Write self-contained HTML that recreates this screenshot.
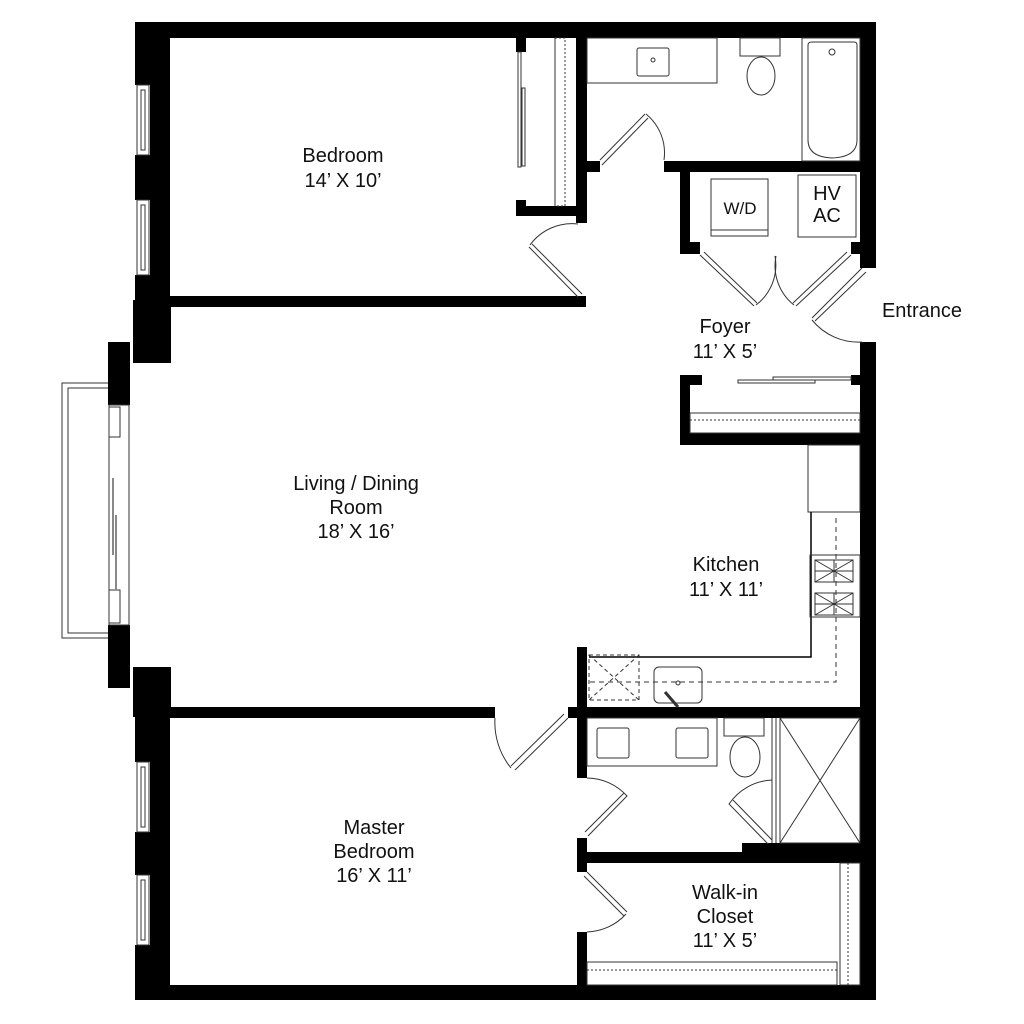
<!DOCTYPE html>
<html><head><style>
html,body{margin:0;padding:0;background:#fff;}
svg{display:block}
text{font-family:"Liberation Sans",Arial,sans-serif;fill:#111;text-anchor:middle}
</style></head><body>
<svg width="1024" height="1024" viewBox="0 0 1024 1024" xmlns="http://www.w3.org/2000/svg">
<g fill="#000">
<rect x="135" y="22" width="741" height="16"/>
<rect x="860" y="22" width="16" height="246"/>
<rect x="860" y="342" width="16" height="658"/>
<rect x="135" y="985" width="741" height="15"/>
<rect x="135" y="22" width="35" height="63"/>
<rect x="135" y="155" width="35" height="45"/>
<rect x="135" y="275" width="35" height="30"/>
<rect x="150" y="38" width="20" height="262"/>
<rect x="133" y="300" width="38" height="63"/>
<rect x="108" y="342" width="22" height="63"/>
<rect x="108" y="625" width="22" height="63"/>
<rect x="133" y="667" width="38" height="50"/>
<rect x="135" y="715" width="35" height="47"/>
<rect x="135" y="832" width="35" height="43"/>
<rect x="135" y="945" width="35" height="55"/>
<rect x="150" y="715" width="20" height="285"/>
<rect x="150" y="296" width="436" height="11"/>
<rect x="576" y="38" width="11" height="185"/>
<rect x="516" y="206" width="70" height="10"/>
<rect x="516" y="38" width="10" height="14"/>
<rect x="516" y="200" width="10" height="16"/>
<rect x="586" y="161" width="14" height="11"/>
<rect x="664" y="161" width="212" height="11"/>
<rect x="680" y="172" width="10" height="82"/>
<rect x="680" y="242" width="20" height="12"/>
<rect x="851" y="242" width="25" height="12"/>
<rect x="862" y="254" width="14" height="14"/>
<rect x="680" y="375" width="10" height="70"/>
<rect x="680" y="375" width="22" height="10"/>
<rect x="851" y="375" width="25" height="10"/>
<rect x="680" y="433" width="196" height="12"/>
<rect x="150" y="707" width="345" height="11"/>
<rect x="568" y="707" width="308" height="11"/>
<rect x="577" y="647" width="10" height="131"/>
<rect x="577" y="838" width="10" height="34"/>
<rect x="577" y="932" width="10" height="60"/>
<rect x="577" y="852" width="299" height="11"/>
<rect x="742" y="843" width="134" height="10"/>
</g>
<g fill="none" stroke="#333" stroke-width="1">
<rect x="137" y="85" width="12" height="70"/><rect x="141" y="90" width="4" height="60"/>
<rect x="137" y="200" width="12" height="75"/><rect x="141" y="205" width="4" height="65"/>
<rect x="137" y="762" width="12" height="70"/><rect x="141" y="767" width="4" height="60"/>
<rect x="137" y="875" width="12" height="70"/><rect x="141" y="880" width="4" height="60"/>
<path d="M108 383 H62 V638 H108 M108 388 H68 V633 H108"/>
<rect x="109" y="405" width="20" height="220"/>
<rect x="109" y="407" width="11" height="30"/><rect x="109" y="590" width="11" height="33"/>
<line x1="113" y1="478" x2="113" y2="555" stroke="#888" stroke-width="2"/>
<line x1="116" y1="515" x2="116" y2="590" stroke="#888" stroke-width="2"/>
<rect x="555" y="38" width="10" height="168" stroke-dasharray="2,2"/>
<line x1="555" y1="38" x2="555" y2="206"/>
<rect x="518" y="52" width="3" height="115"/><rect x="522" y="88" width="3" height="78"/>
<path d="M578 297 L529 247 M582 294 L532 244 M530 245 A52 52 0 0 1 578 224"/>
<rect x="587" y="38" width="130" height="45"/>
<rect x="637" y="48" width="32" height="28" rx="2"/>
<circle cx="653" cy="60" r="2"/>
<rect x="740" y="38" width="40" height="18"/>
<ellipse cx="761" cy="76" rx="14" ry="19"/>
<rect x="802" y="38" width="58" height="123"/>
<path d="M808 45 Q808 42 812 42 H854 Q857 42 857 45 V140 Q857 157 832 158 Q808 157 808 140 Z"/>
<circle cx="832" cy="52" r="3"/>
<path d="M600 160 L645 114 M602 165 L648 118 M646 114 A50 50 0 0 1 664 160"/>
<rect x="711" y="179" width="57" height="57"/><line x1="711" y1="230" x2="768" y2="230"/>
<rect x="798" y="175" width="58" height="62"/>
<path d="M700 255 L754 306 M704 252 L757 303 M756 305 A50 50 0 0 0 775 256"/>
<path d="M851 255 L796 306 M847 252 L793 303 M794 305 A50 50 0 0 1 776 256"/>
<path d="M862 268 L812 318 M866 272 L815 321 M812 320 A60 60 0 0 0 862 342"/>
<rect x="738" y="380" width="77" height="3"/><rect x="773" y="377" width="78" height="3"/>
<rect x="690" y="413" width="170" height="20"/>
<line x1="690" y1="420" x2="860" y2="420" stroke-dasharray="2,2"/>
<rect x="808" y="445" width="52" height="67"/>
<line x1="808" y1="512" x2="860" y2="512"/>
<path d="M811 512 V657 H589" stroke="#000" stroke-width="1.5"/>
<rect x="810" y="555" width="50" height="62"/>
<rect x="815" y="560" width="38" height="22"/><rect x="815" y="593" width="38" height="22"/>
<path d="M815 560 L853 582 M853 560 L815 582 M834 560 V582 M815 571 H853 M815 593 L853 615 M853 593 L815 615 M834 593 V615 M815 604 H853"/>
<path d="M590 682 H836 V516" stroke-dasharray="5,4"/>
<rect x="589" y="655" width="50" height="45" stroke-dasharray="4,3"/>
<path d="M589 655 L639 700 M639 655 L589 700" stroke-dasharray="4,3"/>
<rect x="654" y="667" width="48" height="36" rx="5"/>
<circle cx="678" cy="683" r="2"/>
<line x1="665" y1="692" x2="678" y2="707" stroke-width="3"/>
<path d="M568 718 L515 770 M564 714 L511 766 M511 768 A72 72 0 0 1 495 718"/>
<rect x="587" y="718" width="130" height="48"/>
<rect x="597" y="728" width="32" height="30" rx="2"/><rect x="676" y="728" width="32" height="30" rx="2"/>
<rect x="724" y="718" width="40" height="18"/>
<ellipse cx="745" cy="757" rx="15" ry="20"/>
<path d="M772 718 V843 M776 718 V843"/>
<rect x="780" y="718" width="80" height="125"/>
<path d="M780 718 L860 843 M860 718 L780 843"/>
<path d="M587 778 A55 55 0 0 1 627 796 L588 836 M624 793 L585 832"/>
<path d="M772 840 L733 800 M768 844 L729 804 A55 55 0 0 1 772 780"/>
<path d="M587 872 L627 912 M584 876 L624 916 M626 914 A55 55 0 0 1 587 932"/>
<rect x="587" y="962" width="250" height="23"/>
<line x1="587" y1="970" x2="837" y2="970" stroke-dasharray="2,2"/>
<rect x="840" y="863" width="20" height="122"/>
<line x1="848" y1="863" x2="848" y2="985" stroke-dasharray="2,2"/>
</g>
<g font-size="20">
<text x="343" y="162">Bedroom</text>
<text x="343" y="187">14’ X 10’</text>
<text x="356" y="490">Living / Dining</text>
<text x="356" y="514">Room</text>
<text x="356" y="538">18’ X 16’</text>
<text x="726" y="571">Kitchen</text>
<text x="726" y="596">11’ X 11’</text>
<text x="725" y="333">Foyer</text>
<text x="725" y="358">11’ X 5’</text>
<text x="922" y="317">Entrance</text>
<text x="374" y="834">Master</text>
<text x="374" y="858">Bedroom</text>
<text x="374" y="882">16’ X 11’</text>
<text x="725" y="899">Walk-in</text>
<text x="725" y="923">Closet</text>
<text x="725" y="947">11’ X 5’</text>
<text x="827" y="200" font-size="20">HV</text>
<text x="827" y="222" font-size="20">AC</text>
<text x="740" y="214" font-size="17">W/D</text>
</g>
</svg>
</body></html>
